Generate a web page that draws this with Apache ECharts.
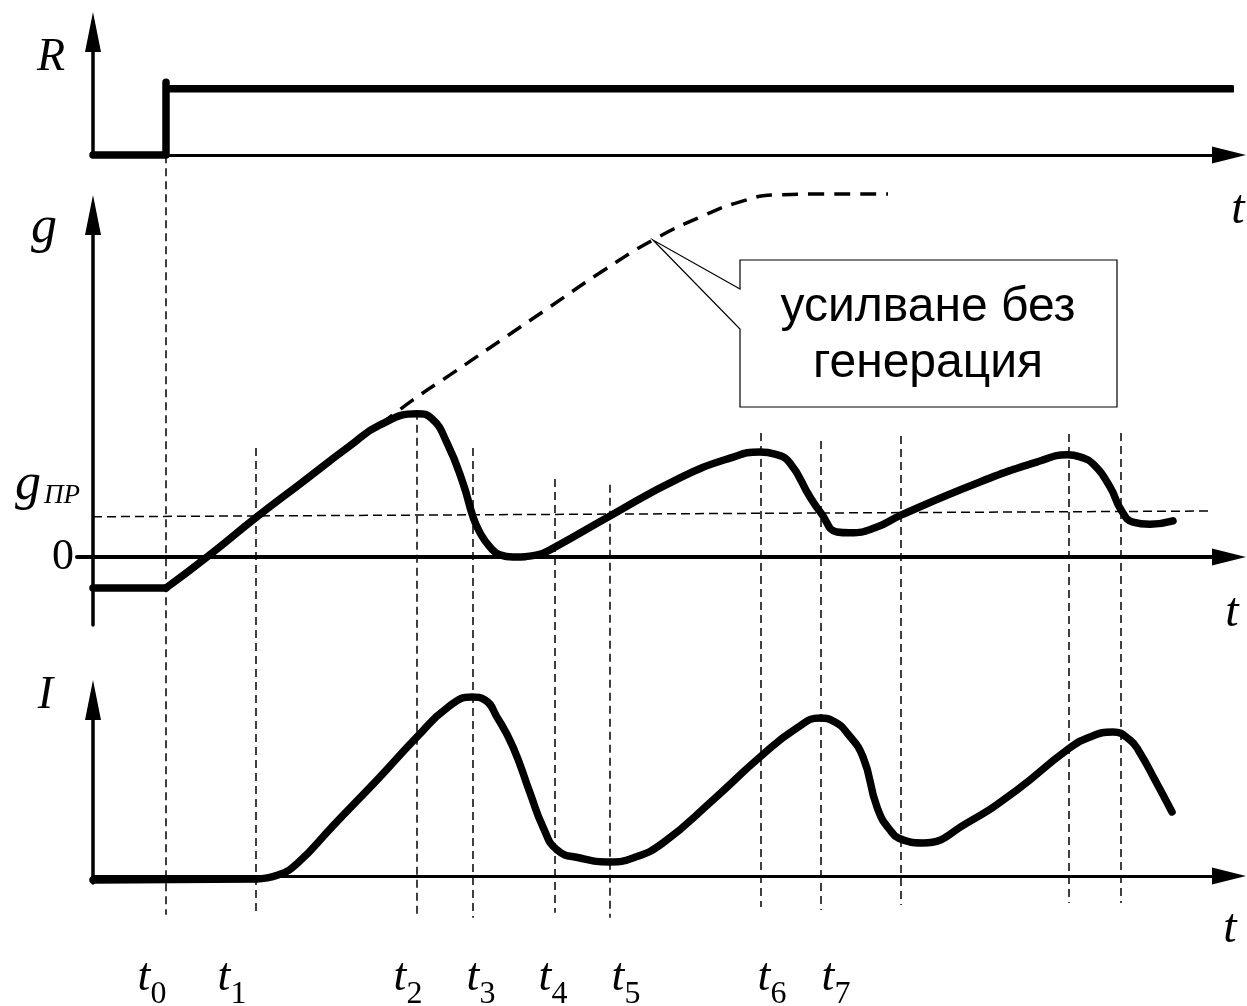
<!DOCTYPE html>
<html><head><meta charset="utf-8">
<script src="https://cdn.jsdelivr.net/npm/echarts@6/dist/echarts.min.js"></script>
<style>html,body{margin:0;padding:0;background:#fff}#c{width:1247px;height:1006px}</style>
</head><body><div id="c"></div>
<script>
// ---------- data (time in arbitrary units; t = 0 at the vertical axes) ----------
// R : pump step
const rT = [0, 73, 73, 73, 1139];
const rV = [0, 0, 1.1, 1, 1];

// g : gain (gПР = 1)
const gLeadT = [0, 73];
const gLeadV = [-0.76, -0.76];
const gT = [73, 114, 164, 207, 257, 287, 324, 339, 354, 370, 380, 387, 397, 407, 420, 444, 462, 517, 587, 637, 667, 682, 697, 717, 728, 744, 757, 782, 808, 887, 947, 974, 987, 1000, 1017, 1028, 1040, 1057, 1080];
const gV = [-0.76, 0, 0.98, 1.78, 2.71, 3.22, 3.49, 3.37, 2.78, 1.80, 0.98, 0.59, 0.24, 0.05, 0.0, 0.05, 0.24, 1.0, 1.93, 2.41, 2.56, 2.51, 2.29, 1.46, 1.07, 0.61, 0.59, 0.71, 1.02, 1.83, 2.34, 2.49, 2.44, 2.27, 1.71, 1.15, 0.85, 0.80, 0.88];
// g without generation (dashed)
const gNoGenT = [287, 320, 357, 407, 457, 507, 560, 612, 647, 682, 727, 795];
const gNoGenV = [3.22, 3.83, 4.44, 5.27, 6.10, 6.93, 7.73, 8.34, 8.66, 8.83, 8.85, 8.85];
const gPR = 1.0;
const gPRLineT = [0, 1115];
const gPRLineV = [0.98, 1.12];

// I : intensity
const iLeadT = [0, 163];
const iLeadV = [-0.23, -0.17];
const iT = [163, 185, 205, 240, 287, 324, 354, 379, 392, 404, 420, 437, 450, 464, 487, 517, 540, 570, 620, 667, 704, 727, 742, 754, 770, 784, 797, 810, 830, 874, 924, 974, 997, 1020, 1037, 1047, 1062, 1079];
const iV = [-0.17, 0.05, 0.75, 2.85, 5.63, 7.90, 9.55, 10.17, 10.0, 9.03, 7.33, 4.72, 2.78, 1.48, 1.02, 0.80, 1.02, 1.88, 4.32, 6.76, 8.41, 8.98, 8.75, 8.13, 6.76, 3.92, 2.61, 2.05, 1.88, 3.01, 4.89, 7.16, 7.90, 8.18, 7.73, 6.99, 5.45, 3.64];

// vertical guide lines (time, top and bottom expressed in g units)
const guideT      = [73, 163, 324, 380, 462, 517, 668, 728, 808, 976, 1028];
const guideTop    = [9.8, 2.66, 3.54, 2.66, 1.90, 1.76, 3.02, 2.83, 2.95, 3.0, 3.02];
const guideBottom = [-8.73, -8.73, -8.8, -8.8, -8.68, -8.8, -8.54, -8.61, -8.49, -8.44, -8.44];

// tick labels t0..t7 (label centres on the time axis)
const tickSubs = ['0', '1', '2', '3', '4', '5', '6', '7'];
const tickLabelT = [59, 139, 315, 388, 460, 533, 679, 743];

const calloutText = ['усилване без', 'генерация'];
const calloutAnchor = [560, 7.73];

// ---------- chart ----------
const zip = (a, b) => a.map((v, i) => [v, b[i]]);
const SERIF = '"Liberation Serif", "Times New Roman", serif';
const thick = { color: '#000', width: 7.5, cap: 'round', join: 'round' };

const X_MAX = 1136;
const gMin = -1.66, gMax = 8.34;

function axisLine(w, sym) {
  return { show: true, onZero: true, symbol: ['none', 'triangle'], symbolSize: sym, lineStyle: { color: '#000', width: w } };
}
function tName(down) {
  return { align: 'center', verticalAlign: 'middle',
    rich: { a: { fontFamily: SERIF, fontStyle: 'italic', fontSize: 48, color: '#000', padding: [down * 2, 0, 0, 0] } } };
}
function yName(gapRight, size) {
  return { fontFamily: SERIF, fontStyle: 'italic', fontSize: size || 46, color: '#000',
    align: 'right', verticalAlign: 'middle', padding: [0, gapRight, 0, 0] };
}
const off = { show: false };

const series = [];
series.push({ type: 'line', xAxisIndex: 0, yAxisIndex: 0, data: zip(rT, rV), symbol: 'none', lineStyle: thick, clip: false, z: 3 });
series.push({ type: 'line', xAxisIndex: 1, yAxisIndex: 1, data: zip(gLeadT, gLeadV), symbol: 'none', lineStyle: thick, clip: false, z: 3 });
series.push({ type: 'line', xAxisIndex: 1, yAxisIndex: 1, data: zip(gT, gV), smooth: 0.5, symbol: 'none', lineStyle: thick, clip: false, z: 3 });
series.push({ type: 'line', xAxisIndex: 1, yAxisIndex: 1, data: zip(gNoGenT, gNoGenV), smooth: 0.5, symbol: 'none',
  lineStyle: { color: '#000', width: 3.5, type: [16, 10] }, clip: false, z: 3 });
series.push({ type: 'line', xAxisIndex: 1, yAxisIndex: 1, data: zip(gPRLineT, gPRLineV), symbol: 'none',
  lineStyle: { color: '#000', width: 1.5, type: [9, 5] }, clip: false, z: 1 });
guideT.forEach((t, k) => {
  series.push({ type: 'line', xAxisIndex: 1, yAxisIndex: 1, data: [[t, guideTop[k]], [t, guideBottom[k]]], symbol: 'none',
    lineStyle: { color: '#000', width: 1.5, type: [8, 5] }, clip: false, z: 1 });
});
series.push({ type: 'line', xAxisIndex: 2, yAxisIndex: 2, data: zip(iLeadT, iLeadV), symbol: 'none', lineStyle: thick, clip: false, z: 3 });
series.push({ type: 'line', xAxisIndex: 2, yAxisIndex: 2, data: zip(iT, iV), smooth: 0.5, symbol: 'none', lineStyle: thick, clip: false, z: 3 });

const option = {
  animation: false,
  backgroundColor: '#fff',
  grid: [
    { left: 93, right: 18, top: 32, bottom: 851, outerBoundsMode: 'none', containLabel: false },
    { left: 77, right: 18, top: 215, bottom: 381, outerBoundsMode: 'none', containLabel: false },
    { left: 93, right: 18, top: 700, bottom: 123, outerBoundsMode: 'none', containLabel: false }
  ],
  xAxis: [
    { gridIndex: 0, type: 'value', min: 0, max: X_MAX, axisLine: axisLine(3, [17, 34]), axisTick: off, axisLabel: off, splitLine: off,
      name: '{a|t}', nameLocation: 'end', nameGap: 9, nameTextStyle: tName(55) },
    { gridIndex: 1, type: 'value', min: -16, max: X_MAX, axisLine: axisLine(4, [17, 34]), axisTick: off, axisLabel: off, splitLine: off,
      name: '{a|t}', nameLocation: 'end', nameGap: 3, nameTextStyle: tName(56) },
    { gridIndex: 2, type: 'value', min: 0, max: X_MAX, axisLine: axisLine(3, [17, 34]), axisTick: off, splitLine: off,
      name: '{a|t}', nameLocation: 'end', nameGap: 1, nameTextStyle: tName(53),
      axisLabel: {
        show: true, customValues: tickLabelT, margin: 62,
        formatter: (v) => { const k = tickLabelT.indexOf(v); return '{t|t}{s|' + (k >= 0 ? tickSubs[k] : '') + '}'; },
        rich: {
          t: { fontFamily: SERIF, fontStyle: 'italic', fontSize: 46, color: '#000' },
          s: { fontFamily: SERIF, fontSize: 32, color: '#000', padding: [34, 0, 0, 0] }
        }
      } }
  ],
  yAxis: [
    { gridIndex: 0, type: 'value', min: 0, max: 1.86, axisLine: axisLine(3.5, [16, 40]), axisTick: off, axisLabel: off, splitLine: off,
      name: 'R', nameLocation: 'end', nameGap: -26, nameTextStyle: yName(28) },
    { gridIndex: 1, type: 'value', min: gMin, max: gMax, axisLine: axisLine(3.5, [16, 40]), axisTick: off, splitLine: off,
      name: 'g', nameLocation: 'end', nameGap: -13, nameTextStyle: yName(36, 52),
      axisLabel: {
        show: true, customValues: [0, gPR], margin: -3,
        formatter: (v) => v === 0 ? '{z|0}' : '{g|g}{p|ПР}',
        rich: {
          z: { fontFamily: SERIF, fontSize: 44, color: '#000', padding: [0, 6, 0, 0] },
          g: { fontFamily: SERIF, fontStyle: 'italic', fontSize: 52, color: '#000', padding: [0, 0, 62, 0] },
          p: { fontFamily: SERIF, fontStyle: 'italic', fontSize: 27, color: '#000', padding: [0, 0, 40, 3] }
        }
      } },
    { gridIndex: 2, type: 'value', min: -0.4, max: 10, axisLine: axisLine(3.5, [16, 40]), axisTick: off, axisLabel: off, splitLine: off,
      name: 'I', nameLocation: 'end', nameGap: 4, nameTextStyle: yName(40) }
  ],
  series: series
};

const chart = echarts.init(document.getElementById('c'), null, { renderer: 'canvas' });
chart.setOption(option);

const tip = chart.convertToPixel({ xAxisIndex: 1, yAxisIndex: 1 }, calloutAnchor);
chart.setOption({
  graphic: [
    { type: 'polygon', z: 10,
      shape: { points: [[740, 260], [1117, 260], [1117, 407], [740, 407], [740, 329], tip, [740, 289]] },
      style: { fill: '#fff', stroke: '#000', lineWidth: 1.2 } },
    { type: 'text', z: 11, x: 928, y: 336,
      style: { text: calloutText.join('\n'), fontFamily: '"Liberation Sans", Arial, sans-serif', fontSize: 48,
        lineHeight: 56, fill: '#000', align: 'center', verticalAlign: 'middle' } }
  ]
});
</script>
</body></html>
